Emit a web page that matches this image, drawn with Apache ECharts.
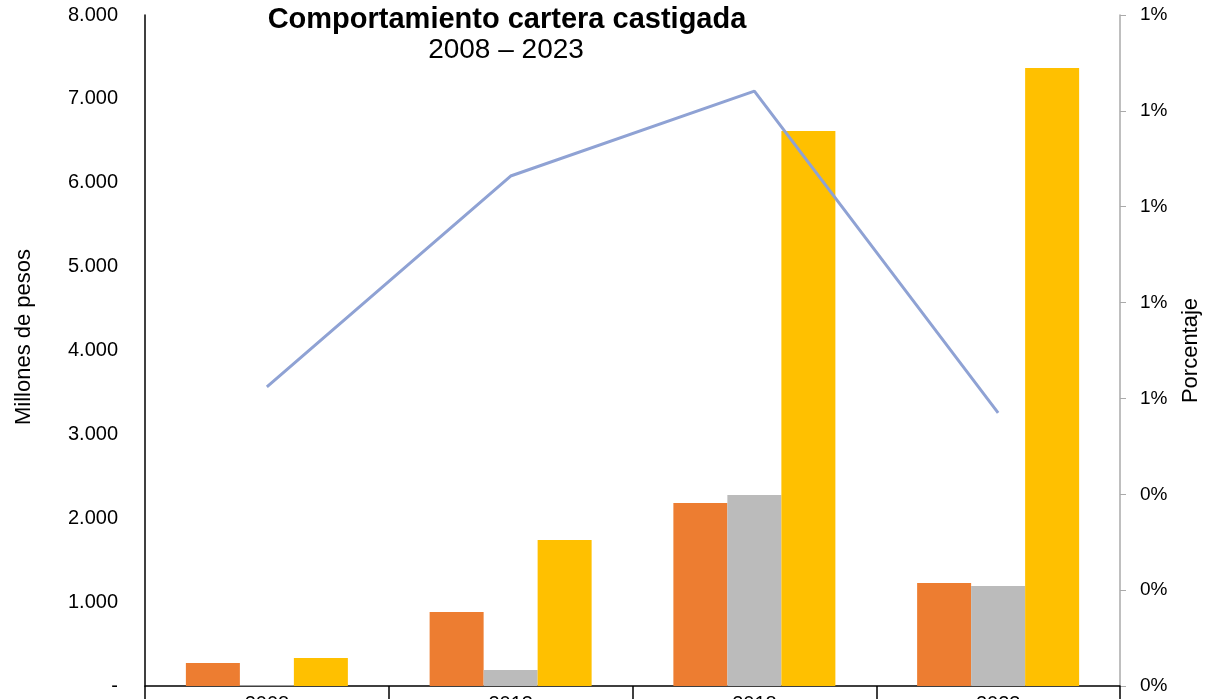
<!DOCTYPE html>
<html>
<head>
<meta charset="utf-8">
<script src="https://cdn.jsdelivr.net/npm/echarts@6/dist/echarts.min.js"></script>
<style>
    html, body { margin: 0; padding: 0; background: #fff; }
    #chart { width: 1218px; height: 699px; }
</style>
</head>
<body>
<div id="chart"></div>
<script type="text/javascript">
    // datos
    var years = ['2008', '2013', '2018', '2023'];
    var serieNaranja = [274, 882, 2182, 1228];
    var serieGris = [10, 191, 2277, 1192];
    var serieAmarilla = [334, 1741, 6617, 7368];
    var porcentaje = [0.624, 1.064, 1.241, 0.570];

    var myChart = echarts.init(document.getElementById('chart'));
    var fuente = 'Liberation Sans, Arial, Helvetica, sans-serif';

    option = {
        animation: false,
        textStyle: { fontFamily: fuente },
        title: [{
            text: 'Comportamiento cartera castigada',
            left: 507, top: 5, textAlign: 'center', padding: 0,
            textStyle: { fontSize: 29, fontWeight: 'bold', color: '#000', fontFamily: fuente }
        }, {
            text: '2008 – 2023',
            left: 506, top: 36, textAlign: 'center', padding: 0,
            textStyle: { fontSize: 28, fontWeight: 'normal', color: '#000', fontFamily: fuente }
        }],
        graphic: [{
            type: 'text', x: 24, y: 337, rotation: Math.PI / 2,
            style: {
                text: 'Millones de pesos', fontSize: 22, fill: '#000', fontFamily: fuente,
                align: 'center', verticalAlign: 'middle'
            }
        }],
        grid: { left: 145, right: 98, top: 15, bottom: 13, containLabel: false, outerBoundsMode: 'none' },
        xAxis: {
            type: 'category',
            data: years,
            axisLine: { lineStyle: { color: '#000', width: 1.5 } },
            axisTick: { show: true, length: 20, lineStyle: { color: '#000', width: 1.5 } },
            axisLabel: { fontSize: 20, color: '#000', margin: 8 }
        },
        yAxis: [{
            type: 'value',
            min: 0, max: 8000, interval: 1000,
            axisLine: { show: true, lineStyle: { color: '#000', width: 1.5 } },
            axisTick: { show: false },
            splitLine: { show: false },
            axisLabel: {
                fontSize: 20, color: '#000', margin: 27,
                formatter: function (v) {
                    if (v === 0) return '-';
                    return String(v).replace(/\B(?=(\d{3})+(?!\d))/g, '.');
                }
            }
        }, {
            type: 'value',
            min: 0, max: 1.4, interval: 0.2,
            name: 'Porcentaje',
            nameLocation: 'middle',
            nameGap: 60,
            nameRotate: 90,
            nameTextStyle: { fontSize: 22, color: '#000' },
            axisLine: { show: true, lineStyle: { color: '#aaa', width: 1.5 } },
            axisTick: { show: true, length: 6, lineStyle: { color: '#aaa' } },
            splitLine: { show: false },
            axisLabel: {
                fontSize: 19, color: '#000', margin: 20,
                formatter: function (v) { return Math.round(v) + '%'; }
            }
        }],
        series: [{
            type: 'bar', data: serieNaranja, barWidth: 54, barGap: '0%',
            itemStyle: { color: '#ED7D31' }
        }, {
            type: 'bar', data: serieGris, barWidth: 54, barGap: '0%',
            itemStyle: { color: '#BBBBBB' }
        }, {
            type: 'bar', data: serieAmarilla, barWidth: 54, barGap: '0%',
            itemStyle: { color: '#FFC000' }
        }, {
            type: 'line', yAxisIndex: 1, data: porcentaje,
            symbol: 'none',
            lineStyle: { color: '#8FA2D4', width: 3 }
        }]
    };
    myChart.setOption(option);
</script>
</body>
</html>
